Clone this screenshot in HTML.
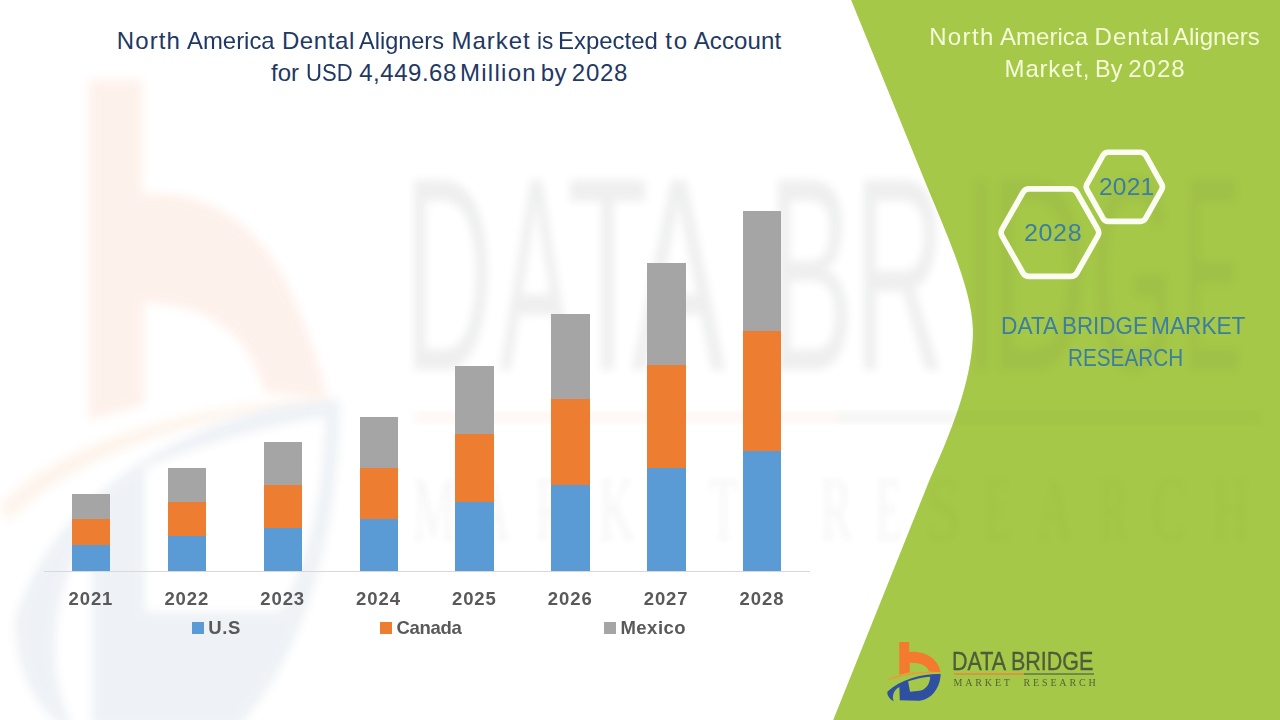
<!DOCTYPE html>
<html>
<head>
<meta charset="utf-8">
<title>North America Dental Aligners Market</title>
<style>
  html, body { margin: 0; padding: 0; }
  body { width: 1280px; height: 720px; overflow: hidden; background: #ffffff; position: relative;
         font-family: "Liberation Sans", sans-serif; }
  #stage { position: absolute; left: 0; top: 0; width: 1280px; height: 720px; overflow: hidden; background: #fff; }
  .abs { position: absolute; white-space: nowrap; }
  .t { position: absolute; white-space: nowrap; transform-origin: 0 0; line-height: 1; }
  .bar { position: absolute; width: 38.4px; }
  .blue { background: #5B9BD5; }
  .orange { background: #ED7D31; }
  .gray { background: #A5A5A5; }
  .yr { position: absolute; top: 589px; width: 60px; text-align: center; font-weight: bold; font-size: 18.5px; letter-spacing: 0.9px; margin-left: -0.3px; color: #595959; line-height: 20px; }
  .lg { position: absolute; top: 618px; font-weight: bold; font-size: 18.5px; color: #595959; line-height: 20px; }
  .sq { position: absolute; top: 622px; width: 12px; height: 12px; }
</style>
</head>
<body>
<div id="stage">

  <!-- green panel -->
  <svg class="abs" style="left:0;top:0" width="1280" height="720" viewBox="0 0 1280 720">
    <path d="M851.2 0 L924.5 180 C 945.5 231 972.5 290 973 330 C 973.4 371 957.5 419 929.6 480 L833.3 720 L1280 720 L1280 0 Z" fill="#A6C848"/>
  </svg>

  <!-- faint watermark layer: the logo stretched across the whole slide -->
  <svg class="abs" style="left:0;top:0" width="1280" height="720" viewBox="0 0 1280 720">
    <defs>
      <filter id="blurA" x="-5%" y="-5%" width="110%" height="110%"><feGaussianBlur stdDeviation="5"/></filter>
      <filter id="blurB" x="-5%" y="-5%" width="110%" height="110%"><feGaussianBlur stdDeviation="4"/></filter>
      <filter id="blurC" x="-5%" y="-5%" width="110%" height="110%"><feGaussianBlur stdDeviation="3"/></filter>
    </defs>
    <g filter="url(#blurA)" opacity="0.085">
      <path d="M89 80 L142 80 L142 194 C200 190 255 215 290 290 C310 335 322 370 327 399 L264 392 C255 350 225 305 144 303 L144 405 L89 420 Z" fill="#F26522"/>
      <path d="M0 505 C60 440 200 400 345 398 C220 410 80 450 8 522 Z" fill="#F08A2E"/>
    </g>
    <g filter="url(#blurA)" opacity="0.075">
      <path d="M340 400 C230 402 60 470 15 620 C15 670 35 705 60 725 L72 725 C45 670 50 590 92 527 L92 725 L240 725 C300 660 340 540 340 400 Z M145 468 C200 445 270 425 325 417 C325 480 310 560 280 612 L145 612 Z" fill="#2C5488" fill-rule="evenodd"/>
    </g>
    <g filter="url(#blurB)" opacity="0.078" fill="#2a3138" font-family="Liberation Sans, sans-serif">
      <text transform="translate(403.9 370) scale(0.448 1)" font-size="276">D</text>
      <text transform="translate(499.8 370) scale(0.394 1)" font-size="276">A</text>
      <text transform="translate(567.1 370) scale(0.481 1)" font-size="276">T</text>
      <text transform="translate(631.7 370) scale(0.509 1)" font-size="276">A</text>
      <text transform="translate(767.3 370) scale(0.471 1)" font-size="276">B</text>
      <text transform="translate(853.6 370) scale(0.459 1)" font-size="276">R</text>
      <text transform="translate(963.1 370) scale(0.468 1)" font-size="276">I</text>
      <text transform="translate(988.8 370) scale(0.497 1)" font-size="276">D</text>
      <text transform="translate(1091.7 370) scale(0.383 1)" font-size="276">G</text>
      <text transform="translate(1182.9 370) scale(0.315 1)" font-size="276">E</text>
    </g>
    <g filter="url(#blurC)" opacity="0.045" fill="#2a3138" font-family="Liberation Serif, serif">
      <text transform="translate(412.6 540) scale(0.537 1)" font-size="92">M</text>
      <text transform="translate(474.5 540) scale(0.540 1)" font-size="92">A</text>
      <text transform="translate(535.7 540) scale(0.479 1)" font-size="92">R</text>
      <text transform="translate(598.6 540) scale(0.542 1)" font-size="92">K</text>
      <text transform="translate(656.7 540) scale(0.491 1)" font-size="92">E</text>
      <text transform="translate(709.2 540) scale(0.510 1)" font-size="92">T</text>
      <text transform="translate(820.6 540) scale(0.513 1)" font-size="92">R</text>
      <text transform="translate(875.8 540) scale(0.450 1)" font-size="92">E</text>
      <text transform="translate(925.8 540) scale(0.689 1)" font-size="92">S</text>
      <text transform="translate(984.8 540) scale(0.450 1)" font-size="92">E</text>
      <text transform="translate(1037.5 540) scale(0.525 1)" font-size="92">A</text>
      <text transform="translate(1098.7 540) scale(0.479 1)" font-size="92">R</text>
      <text transform="translate(1151.9 540) scale(0.553 1)" font-size="92">C</text>
      <text transform="translate(1212.5 540) scale(0.557 1)" font-size="92">H</text>
    </g>
    <g filter="url(#blurC)" opacity="0.04">
      <rect x="414" y="411" width="422" height="13" fill="#F26522"/>
      <rect x="836" y="411" width="424" height="13" fill="#3a4a30"/>
    </g>
    <!-- soften the watermark where it overlaps the green panel -->
    <path d="M851.2 0 L924.5 180 C 945.5 231 972.5 290 973 330 C 973.4 371 957.5 419 929.6 480 L833.3 720 L1280 720 L1280 0 Z" fill="#A6C848" opacity="0.4"/>
  </svg>

  <!-- title -->
  <div class="t" style="left:116.75px; top:29.3px; font-size:24px; letter-spacing:1.131px; color:#1F3864;">North</div>
  <div class="t" style="left:186.98px; top:29.3px; font-size:24px; color:#1F3864; transform:scaleX(0.9957);">America</div>
  <div class="t" style="left:281.90px; top:29.3px; font-size:24px; letter-spacing:0.630px; color:#1F3864;">Dental</div>
  <div class="t" style="left:359.38px; top:29.3px; font-size:24px; color:#1F3864; transform:scaleX(0.9796);">Aligners</div>
  <div class="t" style="left:451.50px; top:29.3px; font-size:24px; letter-spacing:0.975px; color:#1F3864;">Market</div>
  <div class="t" style="left:536.77px; top:29.3px; font-size:24px; color:#1F3864; transform:scaleX(0.9412);">is</div>
  <div class="t" style="left:558.20px; top:29.3px; font-size:24px; color:#1F3864; transform:scaleX(0.9979);">Expected</div>
  <div class="t" style="left:665.23px; top:29.3px; font-size:24px; letter-spacing:1.875px; color:#1F3864;">to</div>
  <div class="t" style="left:693.67px; top:29.3px; font-size:24px; letter-spacing:0.138px; color:#1F3864;">Account</div>
  <div class="t" style="left:270.93px; top:61.3px; font-size:24px; letter-spacing:0.075px; color:#1F3864;">for</div>
  <div class="t" style="left:306.48px; top:61.3px; font-size:24px; color:#1F3864; transform:scaleX(0.9197);">USD</div>
  <div class="t" style="left:359.20px; top:61.3px; font-size:24px; letter-spacing:0.532px; color:#1F3864;">4,449.68</div>
  <div class="t" style="left:460.00px; top:61.3px; font-size:24px; letter-spacing:1.271px; color:#1F3864;">Million</div>
  <div class="t" style="left:540.80px; top:61.3px; font-size:24px; letter-spacing:0.350px; color:#1F3864;">by</div>
  <div class="t" style="left:571.85px; top:61.3px; font-size:24px; letter-spacing:0.733px; color:#1F3864;">2028</div>

  <!-- axis -->
  <div class="abs" style="left:44px; top:571px; width:766px; height:1px; background:#D9D9D9;"></div>

  <!-- bars -->
  <div id="bars">
  <div class="bar blue" style="left:72.0px;top:545.13px;height:25.67px"></div>
  <div class="bar orange" style="left:72.0px;top:519.47px;height:25.67px"></div>
  <div class="bar gray" style="left:72.0px;top:493.80px;height:25.67px"></div>
  <div class="bar blue" style="left:167.87px;top:536.47px;height:34.33px"></div>
  <div class="bar orange" style="left:167.87px;top:502.13px;height:34.33px"></div>
  <div class="bar gray" style="left:167.87px;top:467.80px;height:34.33px"></div>
  <div class="bar blue" style="left:263.74px;top:527.97px;height:42.83px"></div>
  <div class="bar orange" style="left:263.74px;top:485.13px;height:42.83px"></div>
  <div class="bar gray" style="left:263.74px;top:442.30px;height:42.83px"></div>
  <div class="bar blue" style="left:359.61px;top:519.47px;height:51.33px"></div>
  <div class="bar orange" style="left:359.61px;top:468.13px;height:51.33px"></div>
  <div class="bar gray" style="left:359.61px;top:416.80px;height:51.33px"></div>
  <div class="bar blue" style="left:455.48px;top:502.47px;height:68.33px"></div>
  <div class="bar orange" style="left:455.48px;top:434.13px;height:68.33px"></div>
  <div class="bar gray" style="left:455.48px;top:365.80px;height:68.33px"></div>
  <div class="bar blue" style="left:551.35px;top:485.13px;height:85.67px"></div>
  <div class="bar orange" style="left:551.35px;top:399.47px;height:85.67px"></div>
  <div class="bar gray" style="left:551.35px;top:313.80px;height:85.67px"></div>
  <div class="bar blue" style="left:647.22px;top:468.13px;height:102.67px"></div>
  <div class="bar orange" style="left:647.22px;top:365.47px;height:102.67px"></div>
  <div class="bar gray" style="left:647.22px;top:262.80px;height:102.67px"></div>
  <div class="bar blue" style="left:743.09px;top:450.80px;height:120.00px"></div>
  <div class="bar orange" style="left:743.09px;top:330.80px;height:120.00px"></div>
  <div class="bar gray" style="left:743.09px;top:210.80px;height:120.00px"></div>
  </div>

  <!-- right panel text -->
  <div class="t" style="left:929.20px; top:25.3px; font-size:24px; letter-spacing:1.344px; color:#F6FBD9;">North</div>
  <div class="t" style="left:999.98px; top:25.3px; font-size:24px; letter-spacing:0.038px; color:#F6FBD9;">America</div>
  <div class="t" style="left:1094.60px; top:25.3px; font-size:24px; letter-spacing:1.030px; color:#F6FBD9;">Dental</div>
  <div class="t" style="left:1172.97px; top:25.3px; font-size:24px; letter-spacing:0.007px; color:#F6FBD9;">Aligners</div>
  <div class="t" style="left:1004.60px; top:57px; font-size:24px; letter-spacing:0.804px; color:#F6FBD9;">Market,</div>
  <div class="t" style="left:1095.24px; top:57px; font-size:24px; color:#F6FBD9; transform:scaleX(0.9778);">By</div>
  <div class="t" style="left:1128.25px; top:57px; font-size:24px; letter-spacing:1.000px; color:#F6FBD9;">2028</div>

  <!-- hexagons -->
  <svg class="abs" style="left:0;top:0" width="1280" height="720" viewBox="0 0 1280 720">
    <g fill="none" stroke="#FBFDF3" stroke-width="5.6" stroke-linejoin="round">
      <path d="M1002.1 236.2 Q1000.1 232.7 1002.1 229.2 L1023.0 192.4 Q1025.0 188.9 1029.0 188.9 L1070.8 188.9 Q1074.8 188.9 1076.8 192.4 L1097.7 229.2 Q1099.7 232.7 1097.7 236.2 L1076.8 273.0 Q1074.8 276.4 1070.8 276.4 L1029.0 276.4 Q1025.0 276.4 1023.0 273.0 Z"/>
      <path d="M1087.1 189.8 Q1085.3 186.8 1087.1 183.8 L1103.1 155.2 Q1104.8 152.2 1108.3 152.2 L1140.3 152.2 Q1143.8 152.2 1145.6 155.2 L1161.6 183.8 Q1163.3 186.8 1161.6 189.8 L1145.6 218.4 Q1143.8 221.4 1140.3 221.4 L1108.3 221.4 Q1104.8 221.4 1103.1 218.4 Z"/>
    </g>
  </svg>
  <div class="t" id="h1" style="left:1023.7px; top:221.7px; font-size:23.5px; letter-spacing:0.6px; color:#3A7EA1; transform:scaleX(1.065);">2028</div>
  <div class="t" id="h2" style="left:1099.2px; top:175.8px; font-size:23.5px; letter-spacing:0.2px; color:#3A7EA1; transform:scaleX(1.045);">2021</div>

  <div class="t" style="left:1000.81px; top:314.3px; font-size:24px; color:#3A7EA1; transform:scaleX(0.9473);">DATA</div>
  <div class="t" style="left:1062.03px; top:314.3px; font-size:24px; color:#3A7EA1; transform:scaleX(0.9326);">BRIDGE</div>
  <div class="t" style="left:1150.81px; top:314.3px; font-size:24px; color:#3A7EA1; transform:scaleX(0.9446);">MARKET</div>
  <div class="t" style="left:1068.07px; top:346.1px; font-size:24px; color:#3A7EA1; transform:scaleX(0.8634);">RESEARCH</div>

  <!-- logo -->
  <svg class="abs" style="left:880px;top:635px" width="80" height="75" viewBox="0 0 768 720">
    <path d="M185 68 L280 68 L280 162 C420 150 560 220 582 358 L470 350 C455 290 380 262 285 266 L285 358 L185 382 Z" fill="#F47A30"/>
    <path d="M78 425 C200 360 420 335 612 370 C440 352 230 375 80 436 Z" fill="#EE9A3A"/>
    <path d="M582 375 C420 370 200 420 70 545 C68 590 100 620 132 636 C112 590 130 530 186 500 L190 626 L380 630 C500 620 580 500 582 375 Z M270 445 C340 420 420 405 482 400 C478 470 440 525 380 536 L288 545 Z" fill="#2F4FA0" fill-rule="evenodd"/>
  </svg>
  <div class="t" id="l1" style="left:951.8px; top:648.3px; font-size:26px; color:#4F5B3A; -webkit-text-stroke:0.35px #4F5B3A; transform:scaleX(0.827);">DATA BRIDGE</div>
  <div class="abs" style="left:953.5px; top:672.5px; width:70.5px; height:2px; background:#DB9440;"></div>
  <div class="abs" style="left:1024px; top:672.5px; width:70px; height:2px; background:#71894A;"></div>
  <div class="t" id="l2" style="left:953.5px; top:677.9px; font-size:10px; color:#55633A; font-family:'Liberation Serif', serif; letter-spacing:2.85px;">MARKET&nbsp; RESEARCH</div>

  <!-- year labels -->
  <div id="years">
  <div class="yr" style="left:61.20px">2021</div>
  <div class="yr" style="left:157.07px">2022</div>
  <div class="yr" style="left:252.94px">2023</div>
  <div class="yr" style="left:348.81px">2024</div>
  <div class="yr" style="left:444.68px">2025</div>
  <div class="yr" style="left:540.55px">2026</div>
  <div class="yr" style="left:636.42px">2027</div>
  <div class="yr" style="left:732.29px">2028</div>
  </div>

  <!-- legend -->
  <div class="sq blue" style="left:192px;"></div><div class="lg" style="left:208.2px; letter-spacing:0.6px;">U.S</div>
  <div class="sq orange" style="left:380px;"></div><div class="lg" style="left:396.5px; letter-spacing:-0.3px;">Canada</div>
  <div class="sq gray" style="left:604px;"></div><div class="lg" style="left:620.4px; letter-spacing:0.5px;">Mexico</div>

</div>
</body>
</html>
